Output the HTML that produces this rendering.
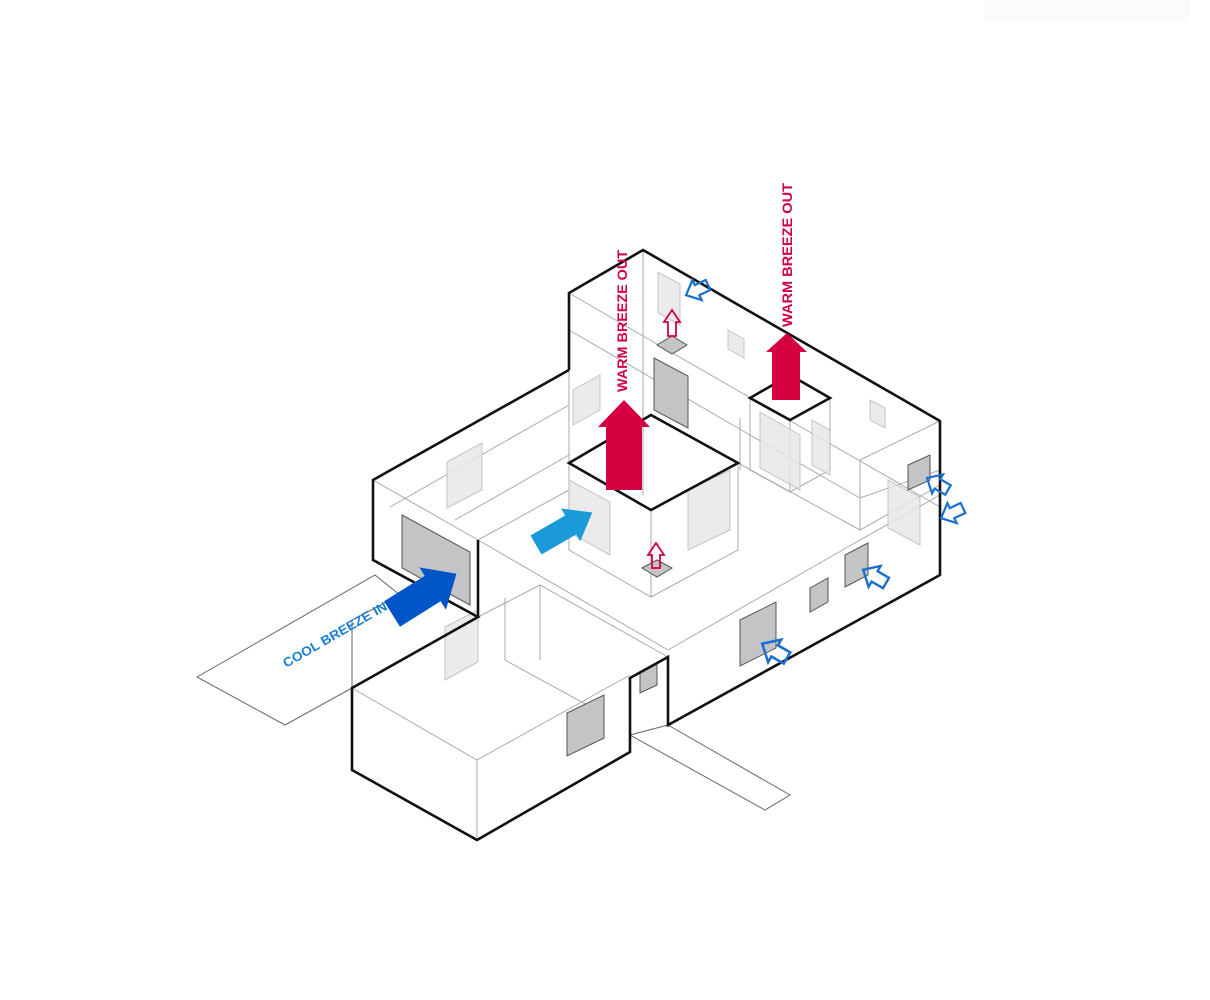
<!DOCTYPE html>
<html><head><meta charset="utf-8"><style>html,body{margin:0;padding:0;background:#fff}svg{display:block}</style></head>
<body>
<svg width="1210" height="1000" viewBox="0 0 1210 1000" xmlns="http://www.w3.org/2000/svg" font-family="Liberation Sans, sans-serif">
<defs>
<polygon id="oa" points="0,-5 11,-5 11,-10 22,0 11,10 11,5 0,5"/>
</defs>
<rect width="1210" height="1000" fill="#fff"/>
<rect x="985" y="0" width="205" height="22" fill="#fbfbfb"/>
<g fill="#fff" stroke="#666" stroke-width="1">
<polygon points="197,677 375,575 400,595 352,620 352,688 285,725"/>
<polygon points="668,725 790,795 765,810 630,735"/>
</g>
<g stroke="#aaa" stroke-width="1" fill="none">
<path d="M569,293 L643,336 L940,507"/>
<path d="M643,250 L643,336 L643,495"/>
<path d="M569,370 L569,463"/>
<path d="M569,330 L750,435 L860,498 L940,470"/>
<path d="M373,480 L478,540 L668,650"/>
<path d="M390,507 L569,405"/>
<path d="M478,540 L569,490"/>
<path d="M455,520 L569,455"/>
<path d="M569,463 L569,550 L651,597 L738,550 L738,463"/>
<path d="M651,510 L651,597"/>
<path d="M738,463 L860,530 L940,485"/>
<path d="M860,460 L860,530"/>
<path d="M860,460 L940,421"/>
<path d="M668,650 L860,540 L940,495"/>
<path d="M478,617 L540,585 L668,657"/>
<path d="M505,598 L505,660 L600,712"/>
<path d="M540,585 L540,660"/>
<path d="M352,688 L477,760 L630,675"/>
<path d="M477,760 L477,840"/>
<path d="M750,398 L750,470 L790,492 L830,470 L830,398"/>
<path d="M790,420 L790,492"/>
<path d="M740,418 L740,470"/>
</g>
<g fill="#e8e8e8" stroke="#bbb" stroke-width="1" opacity="0.85">
<polygon points="447,462 482,443 482,490 447,508"/>
<polygon points="573,390 600,375 600,410 573,425"/>
<polygon points="658,272 680,284 680,325 658,313"/>
<polygon points="728,330 744,339 744,358 728,349"/>
<polygon points="870,400 885,408 885,428 870,420"/>
<polygon points="569,480 610,502 610,555 569,532"/>
<polygon points="688,490 730,470 730,530 688,550"/>
<polygon points="760,412 800,435 800,490 760,468"/>
<polygon points="812,420 830,430 830,475 812,465"/>
<polygon points="888,480 920,497 920,545 888,528"/>
<polygon points="445,627 478,610 478,662 445,680"/>
</g>
<g fill="#c4c4c6" stroke="#555" stroke-width="1">
<polygon points="402,515 470,552 470,605 402,568"/>
<polygon points="654,358 688,376 688,428 654,410"/>
<polygon points="908,465 930,455 930,480 908,490"/>
<polygon points="845,555 868,543 868,575 845,587"/>
<polygon points="810,588 828,578 828,602 810,612"/>
<polygon points="740,620 776,602 776,648 740,666"/>
<polygon points="567,713 604,695 604,738 567,756"/>
<polygon points="640,672 657,664 657,685 640,693"/>
<polygon points="657,345 672,336 687,345 672,354"/>
<polygon points="642,568 657,560 672,568 657,577"/>
</g>
<g stroke="#111" stroke-width="2.6" fill="none" stroke-linejoin="miter">
<path d="M569,370 L569,293 L643,250 L940,421 L940,575 L668,725 L668,657 L630,678 L630,752 L477,840 L352,770 L352,688 L478,617 L373,560 L373,480 L569,370"/>
<path d="M478,540 L478,617"/>
<polygon points="569,463 651,415 738,463 651,510"/>
<polygon points="750,398 790,375 830,398 790,420"/>
</g>
<g fill="#d4003f">
<polygon points="606,490 606,427 598,427 624,400 650,427 642,427 642,490"/>
<polygon points="772,400 772,352 766,352 787,333 807,352 800,352 800,400"/>
</g>
<g fill="none" stroke="#d4003f" stroke-width="1.8">
<polygon points="668,336 668,322 664,322 672,310 680,322 676,322 676,336"/>
<polygon points="652,568 652,555 648,555 656,543 664,555 660,555 660,568"/>
</g>
<!-- light blue arrow -->
<g transform="translate(536,545) rotate(-30)"><polygon points="0,-11 40,-11 40,-19 65,0 40,19 40,11 0,11" fill="#1a9ad8"/></g>
<!-- dark blue arrow -->
<g transform="translate(392,614) rotate(-32)"><polygon points="0,-15 48,-15 48,-25 76,0 48,25 48,15 0,15" fill="#0055c8"/></g>
<g fill="none" stroke="#1a6fd0" stroke-width="2">
<use href="#oa" transform="translate(708,285) rotate(155) scale(1.1)"/>
<use href="#oa" transform="translate(948,490) rotate(-150) scale(1.1)"/>
<use href="#oa" transform="translate(963,508) rotate(155) scale(1.1)"/>
<use href="#oa" transform="translate(886,583) rotate(-150) scale(1.2)"/>
<use href="#oa" transform="translate(787,658) rotate(-150) scale(1.3)"/>
</g>
<text transform="translate(627,392) rotate(-90)" font-size="14" font-weight="bold" fill="#d4003f" textLength="142" lengthAdjust="spacingAndGlyphs">WARM BREEZE OUT</text>
<text transform="translate(792,327) rotate(-90)" font-size="14" font-weight="bold" fill="#d4003f" textLength="144" lengthAdjust="spacingAndGlyphs">WARM BREEZE OUT</text>
<text transform="translate(286,668) rotate(-30)" font-size="13" font-weight="bold" fill="#1a7fd6" textLength="118" lengthAdjust="spacingAndGlyphs">COOL BREEZE IN</text>
</svg>
</body></html>
